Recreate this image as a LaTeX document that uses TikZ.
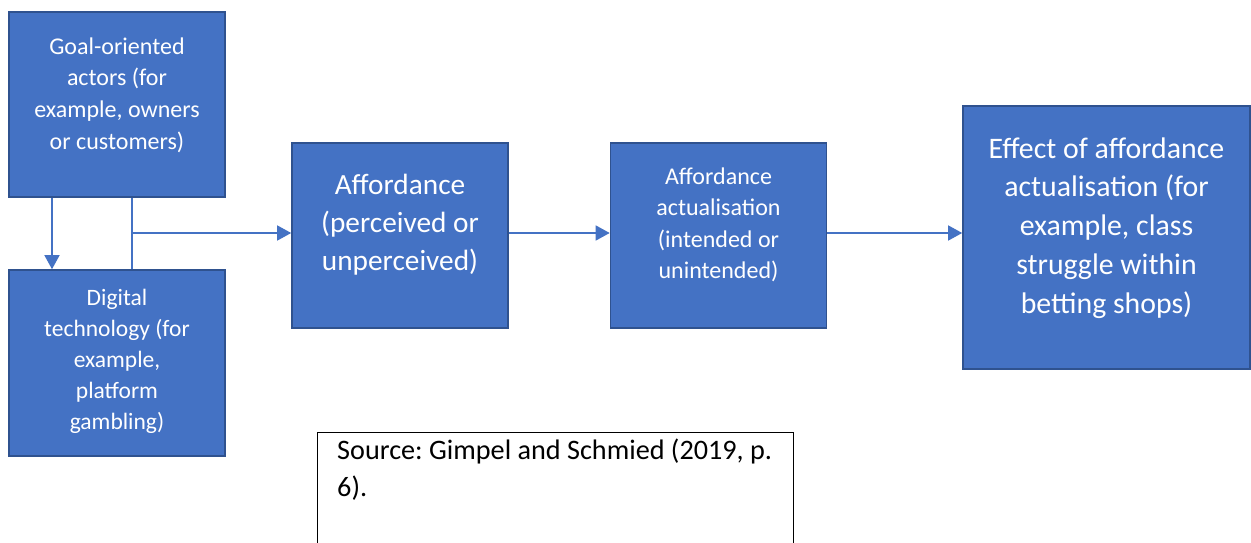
\documentclass[tikz,border=0pt]{standalone}
\usepackage{fontspec}
\setmainfont{Carlito}
\usetikzlibrary{arrows.meta}
\definecolor{boxfill}{HTML}{4472C4}
\definecolor{boxline}{HTML}{2F528F}
\tikzset{
  bluebox/.style={draw=boxline, line width=1.6pt, fill=boxfill, inner sep=0pt},
  boxtext/.style={text=white, align=center, inner sep=0pt},
  arr/.style={draw=boxfill, line width=1.4pt, -{Triangle[length=14pt,width=15pt]}},
  link/.style={draw=boxfill, line width=1.4pt},
}
\frenchspacing
\begin{document}
\begin{tikzpicture}[x=1pt,y=-1pt]
\clip (0,0) rectangle (1251,543);
\fill[white] (0,0) rectangle (1251,543);

% boxes
\node[bluebox, minimum width=216pt, minimum height=185pt] (goal) at (117,104.5) {};
\node[bluebox, minimum width=216pt, minimum height=186pt] (digital) at (117,363) {};
\node[bluebox, minimum width=216pt, minimum height=185pt] (aff) at (400,235.5) {};
\node[bluebox, minimum width=216pt, minimum height=185pt] (act) at (718.5,235.5) {};
\node[bluebox, minimum width=287pt, minimum height=263pt] (eff) at (1106.5,237.5) {};

% box texts
\node[boxtext, font=\fontsize{24}{31.7}\selectfont] (goaltxt) at (117,95)
  {Goal-oriented\\actors (for\\example, owners\\or customers)};
\node[boxtext, font=\fontsize{23.5}{31}\selectfont] (digitaltxt) at (117,361)
  {Digital\\technology (for\\example,\\platform\\gambling)};
\node[boxtext, font=\fontsize{29.3}{38}\selectfont] (afftxt) at (400,225)
  {Affordance\\(perceived or\\unperceived)};
\node[boxtext, font=\fontsize{24}{31.5}\selectfont] (acttxt) at (718.5,225)
  {Affordance\\actualisation\\(intended or\\unintended)};
\node[boxtext, font=\fontsize{29.8}{38.8}\selectfont] (efftxt) at (1106.5,228)
  {Effect of affordance\\actualisation (for\\example, class\\struggle within\\betting shops)};

% connectors
\coordinate (row) at (0,233);
\draw[arr] ([xshift=-65pt]goal.south) -- ([xshift=-65pt]digital.north);
\draw[link] ([xshift=15pt]goal.south) -- ([xshift=15pt]digital.north);
\coordinate (branch) at ([xshift=15pt]goal.south |- row);
\draw[arr] (branch) -- (aff.west |- row);
\draw[arr] (aff.east |- row) -- (act.west |- row);
\draw[arr] (act.east |- row) -- (eff.west |- row);

% source note
\node[draw=black, line width=1pt, fill=white, minimum width=476pt, minimum height=140pt, inner sep=0pt] (src) at (555,502) {};
\node[anchor=north west, inner sep=0pt, align=left, font=\fontsize{28.2}{37}\selectfont] (srctxt) at (337,439)
  {Source: Gimpel and Schmied (2019, p.\\6).};
\end{tikzpicture}
\end{document}
